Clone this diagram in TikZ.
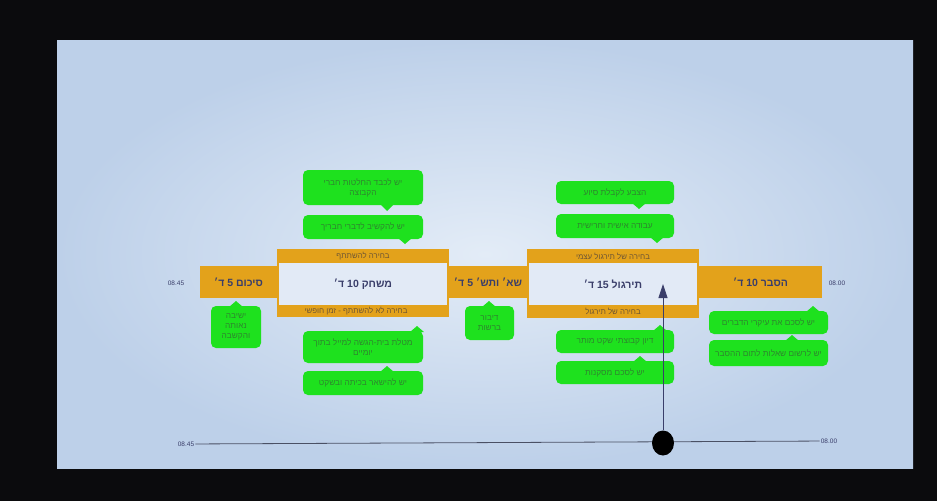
\documentclass[tikz,border=0pt]{standalone}
\usepackage{fontspec}
\setmainfont{Liberation Sans}
\newfontfamily\heb[Script=Hebrew]{Liberation Sans}
\TeXXeTstate=1
\usetikzlibrary{arrows.meta,shapes.geometric}
\definecolor{frame}{HTML}{0B0B0D}
\definecolor{scrin}{HTML}{E3ECF7}
\definecolor{scrout}{HTML}{BDD0E9}
\definecolor{orng}{HTML}{E3A21B}
\definecolor{innerw}{HTML}{E2EAF6}
\definecolor{grn}{HTML}{1EE11E}
\definecolor{grtxt}{HTML}{2E872E}
\definecolor{bandtxt}{HTML}{6E5634}
\definecolor{navy}{HTML}{3A3E6A}
\definecolor{linec}{HTML}{4A5064}
\newcommand\hebr[1]{\beginR #1\endR}
\newcommand\numl[1]{\beginL #1\endL{}}
\begin{document}
\begin{tikzpicture}[x=1pt,y=-1pt,
  ob/.style={fill=orng,draw=none,inner sep=0pt},
  wb/.style={fill=innerw,draw=none,inner sep=0pt},
  bub/.style={fill=grn,rounded corners=5pt,inner sep=1pt,align=center,text=grtxt,font=\heb\fontsize{8.3}{10}\selectfont},
  tailc/.style={fill=grn},
  mainlbl/.style={text=navy,font=\heb\bfseries\fontsize{10.5}{12}\selectfont},
  bandlbl/.style={text=bandtxt,font=\heb\fontsize{7.8}{9}\selectfont},
  timelbl/.style={text=navy,font=\fontsize{6.5}{7.5}\selectfont,inner sep=1pt}]
\useasboundingbox (0,0) rectangle (937,501);
\fill[frame] (0,0) rectangle (937,501);
\shade[inner color=scrin,outer color=scrout] (57,40) rectangle (913,468);

% big blocks
\node[ob,minimum width=172,minimum height=68] (game) at (363,283) {};
\node[wb,minimum width=168,minimum height=42] (gamein) at (363,284) {};
\node[mainlbl] (gamelbl) at (363,284) {\hebr{משחק \numl{10} ד׳}};
\node[bandlbl] (gametop) at (363,256) {\hebr{בחירה להשתתף}};
\node[bandlbl] (gamebot) at (356,311) {\hebr{בחירה לא להשתתף - זמן חופשי}};

\node[ob,minimum width=172,minimum height=69] (prac) at (613,283.5) {};
\node[wb,minimum width=168,minimum height=42] (pracin) at (613,284) {};
\node[mainlbl] (praclbl) at (613,284) {\hebr{תירגול \numl{15} ד׳}};
\node[bandlbl] (practop) at (613,256) {\hebr{בחירה של תירגול עצמי}};
\node[bandlbl] (pracbot) at (613,311.5) {\hebr{בחירה של תירגול}};

% small blocks
\node[ob,mainlbl,minimum width=77,minimum height=32] (sum) at (238.5,282) {\hebr{סיכום \numl{5} ד׳}};
\node[ob,mainlbl,minimum width=78,minimum height=32] (sha) at (488,282) {\hebr{שא׳ ותש׳ \numl{5} ד׳}};
\node[ob,mainlbl,minimum width=123,minimum height=32] (expl) at (760.5,282) {\hebr{הסבר \numl{10} ד׳}};

\node[timelbl] (l45) at (176,283) {08.45};
\node[timelbl] (l00) at (837,283) {08.00};

% bubbles above game
\node[bub,minimum width=120,minimum height=35] (b1) at (363,187.5) {\hebr{יש לכבד החלטות חברי}\\\hebr{הקבוצה}};
\fill[tailc] (380,204) -- (387,211) -- (394,204) -- cycle;
\node[bub,minimum width=120,minimum height=24] (b2) at (363,227) {\hebr{יש להקשיב לדברי חבריך}};
\fill[tailc] (398,238) -- (405,244) -- (412,238) -- cycle;
% bubbles below game
\node[bub,minimum width=120,minimum height=32] (b3) at (363,347) {\hebr{מטלת בית-הגשה למייל בתוך}\\\hebr{יומיים}};
\fill[tailc] (410,332) -- (417,326) -- (424,332) -- cycle;
\node[bub,minimum width=120,minimum height=24] (b4) at (363,383) {\hebr{יש להישאר בכיתה ובשקט}};
\fill[tailc] (380,372) -- (387,366) -- (394,372) -- cycle;
% summary bubble
\node[bub,minimum width=50,minimum height=42] (b5) at (236,327) {\hebr{ישיבה}\\\hebr{נאותה}\\\hebr{והקשבה}};
\fill[tailc] (229,307) -- (236,301) -- (243,307) -- cycle;
% Q&A bubble
\node[bub,minimum width=49,minimum height=34] (b6) at (489.5,323) {\hebr{דיבור}\\\hebr{ברשות}};
\fill[tailc] (482,307) -- (489,301) -- (496,307) -- cycle;
% practice bubbles
\node[bub,minimum width=118,minimum height=23] (b7) at (615,192.5) {\hebr{הצבע לקבלת סיוע}};
\fill[tailc] (632,203) -- (639,209) -- (646,203) -- cycle;
\node[bub,minimum width=118,minimum height=24] (b8) at (615,226) {\hebr{עבודה אישית וחרישית}};
\fill[tailc] (650,237) -- (657,243) -- (664,237) -- cycle;
\node[bub,minimum width=118,minimum height=23] (b9) at (615,341.5) {\hebr{דיון קבוצתי שקט מותר}};
\fill[tailc] (653,331) -- (660,325) -- (667,331) -- cycle;
\node[bub,minimum width=118,minimum height=23] (b10) at (615,372.5) {\hebr{יש לסכם מסקנות}};
\fill[tailc] (633,362) -- (640,356) -- (647,362) -- cycle;
% explanation bubbles
\node[bub,minimum width=119,minimum height=23] (b11) at (768.5,322.5) {\hebr{יש לסכם את עיקרי הדברים}};
\fill[tailc] (806,312) -- (813,306) -- (820,312) -- cycle;
\node[bub,minimum width=119,minimum height=26] (b12) at (768.5,353) {\hebr{יש לרשום שאלות לתום ההסבר}};
\fill[tailc] (785,341) -- (792,335) -- (799,341) -- cycle;

% timeline
\node[timelbl] (t45) at (186,444) {08.45};
\node[timelbl] (t00) at (829,441) {08.00};
\draw[linec,line width=0.8pt] (t45) -- (t00);
\node[ellipse,fill=black,minimum width=22,minimum height=25,inner sep=0pt] (dot) at (663,443) {};
\coordinate (tip) at (663,284);
\draw[navy,line width=0.9pt,-{Triangle[width=9pt,length=14pt]}] (dot.north) -- (tip);
\end{tikzpicture}
\end{document}
